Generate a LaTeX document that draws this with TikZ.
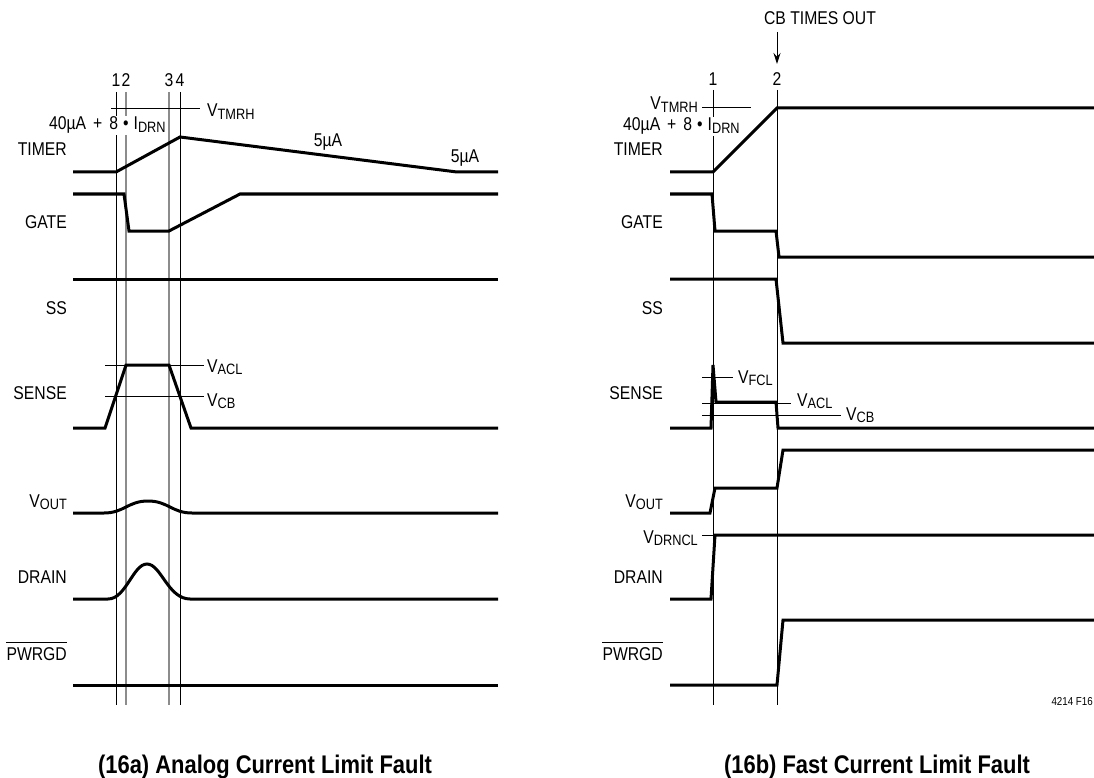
\documentclass[tikz,border=0pt]{standalone}
\usepackage{fontspec}
\setmainfont[FakeStretch=0.85]{Liberation Sans}
\newfontfamily\ttlfont[FakeStretch=0.86]{Liberation Sans}
\usetikzlibrary{arrows.meta}
\newcommand{\sbx}[1]{\raisebox{-2.5pt}{\fontsize{15pt}{16pt}\selectfont #1}}
\newcommand{\idrn}{40µA\hspace{7pt}+\hspace{7pt}8\hspace{5pt}•\hspace{5pt}I\sbx{DRN}}
\begin{document}
\begin{tikzpicture}[x=1pt,y=-1pt,
  sig/.style={line width=3pt},
  thn/.style={line width=1pt},
  gry/.style={line width=1.3pt, black!45},
  lbl/.style={inner sep=0pt, font=\fontsize{18.5pt}{20pt}\selectfont},
  ttl/.style={inner sep=0pt, font=\ttlfont\bfseries\fontsize{25.5pt}{27pt}\selectfont},
  tag/.style={inner sep=0pt, font=\fontsize{11.5pt}{12pt}\selectfont}]
\useasboundingbox (0,0) rectangle (1094,778);

% ================= LEFT PANEL (16a) =================
\draw[thn] (116,92) -- (116,705);
\draw[gry] (126,92) -- (126,705);
\draw[gry] (169,92) -- (169,705);
\draw[thn] (180,92) -- (180,705);

\node[lbl, anchor=base] (n1a) at (116,87) {1};
\node[lbl, anchor=base] (n2a) at (126,87) {2};
\node[lbl, anchor=base] (n3a) at (169,87) {3};
\node[lbl, anchor=base] (n4a) at (180,87) {4};

\draw[thn] (111,109) -- (200,109);
\node[lbl, anchor=base west] (vtmrha) at (207,117) {V\sbx{TMRH}};
\node[lbl, anchor=base west, fill=white, inner sep=1pt] (ia) at (48,130) {\idrn};

% TIMER
\draw[sig] (73,172) -- (116,172) -- (180,137) -- (457,172) -- (498,172);
\node[lbl, anchor=base] (fiveA) at (328,147) {5µA};
\node[lbl, anchor=base] (fiveB) at (465,163) {5µA};
% GATE
\draw[sig] (73,194) -- (124,194) -- (129,231) -- (169,231) -- (240,194) -- (498,194);
% SS
\draw[sig] (73,279) -- (498,279);
% SENSE
\draw[thn] (105,365) -- (204,365);
\draw[thn] (105,396) -- (204,396);
\draw[sig] (73,428) -- (105,428) -- (126,365) -- (169,365) -- (191,428) -- (498,428);
\node[lbl, anchor=base west] (vacla) at (207,372) {V\sbx{ACL}};
\node[lbl, anchor=base west] (vcba) at (207,406) {V\sbx{CB}};
% VOUT
\draw[sig] (73,513) -- (104,513) .. controls (124,513) and (128,501) .. (148,501)
  .. controls (168,501) and (172,513) .. (192,513) -- (498,513);
% DRAIN
\draw[sig] (73,599) -- (108,599) .. controls (126,599) and (133,564) .. (147,564)
  .. controls (161,564) and (168,599) .. (190,599) -- (498,599);
% PWRGD
\draw[sig] (73,685) -- (498,685);

% signal names left
\node[lbl, anchor=east] (timera) at (67,149) {TIMER};
\node[lbl, anchor=east] (gatea) at (67,222) {GATE};
\node[lbl, anchor=east] (ssa) at (67,308) {SS};
\node[lbl, anchor=east] (sensea) at (67,393) {SENSE};
\node[lbl, anchor=base east] (vouta) at (67,507) {V\sbx{OUT}};
\node[lbl, anchor=east] (draina) at (67,577) {DRAIN};
\node[lbl, anchor=east] (pwa) at (67,654) {PWRGD};
\draw[thn] ([yshift=4.5pt]pwa.north west) -- ([yshift=4.5pt]pwa.north east);

\node[ttl, anchor=base] (ttla) at (265,773) {(16a) Analog Current Limit Fault};

% ================= RIGHT PANEL (16b) =================
\node[lbl, anchor=base] (cbto) at (820,25) {CB TIMES OUT};
\coordinate (arrtop) at (777,32);
\coordinate (arrbot) at (777,64);
\draw[thn, -{Stealth[length=11pt,width=7pt]}] (arrtop) -- (arrbot);

\draw[thn] (713,90) -- (713,705);
\draw[thn] (777,90) -- (777,705);
\node[lbl, anchor=base] (n1b) at (713,86) {1};
\node[lbl, anchor=base] (n2b) at (777,86) {2};

\draw[thn] (702,108) -- (751,108);
\node[lbl, anchor=base east] (vtmrhb) at (698,110) {V\sbx{TMRH}};
\node[lbl, anchor=base west, fill=white, inner sep=1pt] (ib) at (622,131) {\idrn};

% TIMER
\draw[sig] (670,172) -- (713,172) -- (777,108) -- (1094,108);
% GATE
\draw[sig] (670,194) -- (712,194) -- (715,231) -- (776,231) -- (779,257) -- (1094,257);
% SS
\draw[sig] (670,279) -- (776,279) -- (783,343) -- (1094,343);
% SENSE
\draw[thn] (702,377) -- (733,377);
\draw[thn] (702,403) -- (791,403);
\draw[thn] (702,415) -- (841,415);
\draw[sig] (670,428) -- (711,428) -- (713,365) -- (716,402) -- (776,402) -- (778,428) -- (1094,428);
\node[lbl, anchor=base west] (vfclb) at (738,383) {V\sbx{FCL}};
\node[lbl, anchor=base west] (vaclb) at (797,406) {V\sbx{ACL}};
\node[lbl, anchor=base west] (vcbb) at (846,420) {V\sbx{CB}};
% VOUT
\draw[sig] (670,513) -- (710,513) -- (715,488) -- (777,488) -- (783,450) -- (1094,450);
% DRAIN
\draw[thn] (702,535) -- (713,535);
\draw[sig] (670,599) -- (711,599) -- (715,535) -- (1094,535);
\node[lbl, anchor=base east] (vdrncl) at (698,543) {V\sbx{DRNCL}};
% PWRGD
\draw[sig] (670,685) -- (777,685) -- (783,620) -- (1094,620);

% signal names right
\node[lbl, anchor=east] (timerb) at (663,149) {TIMER};
\node[lbl, anchor=east] (gateb) at (663,222) {GATE};
\node[lbl, anchor=east] (ssb) at (663,308) {SS};
\node[lbl, anchor=east] (senseb) at (663,393) {SENSE};
\node[lbl, anchor=base east] (voutb) at (663,507) {V\sbx{OUT}};
\node[lbl, anchor=east] (drainb) at (663,577) {DRAIN};
\node[lbl, anchor=east] (pwb) at (663,654) {PWRGD};
\draw[thn] ([yshift=4.5pt]pwb.north west) -- ([yshift=4.5pt]pwb.north east);

\node[tag, anchor=east] (fig) at (1093,702) {4214 F16};
\node[ttl, anchor=base] (ttlb) at (877,773) {(16b) Fast Current Limit Fault};
\end{tikzpicture}
\end{document}
